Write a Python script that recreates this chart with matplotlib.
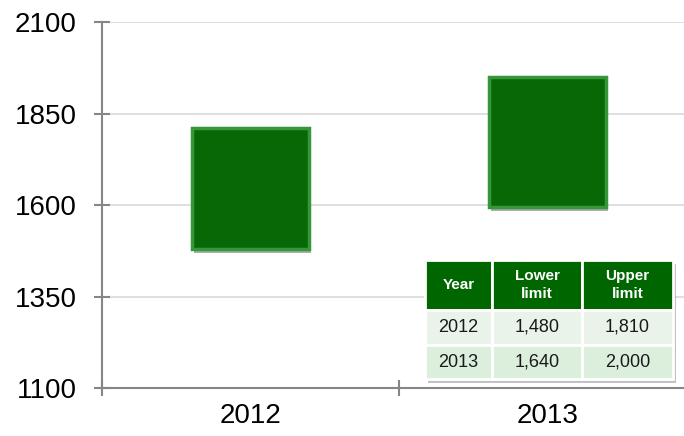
import matplotlib
matplotlib.use("Agg")
import matplotlib.pyplot as plt
import matplotlib.patheffects as pe
from matplotlib.patches import Rectangle

# data
years = ["2012", "2013"]
bar_low = [1480, 1595]
bar_high = [1810, 1950]
y_ticks = [1100, 1350, 1600, 1850, 2100]

table_header = ["Year", "Lower\nlimit", "Upper\nlimit"]
table_rows = [["2012", "1,480", "1,810"],
              ["2013", "1,640", "2,000"]]

plt.rcParams['font.family'] = ['Liberation Sans', 'DejaVu Sans']

fig = plt.figure(figsize=(6.84, 4.36), dpi=100)
ax = fig.add_axes([102 / 684, 48 / 436, 582 / 684, 366 / 436])

x = [0.5, 1.5]
heights = [h - l for h, l in zip(bar_high, bar_low)]
ax.bar(x, heights, bottom=bar_low, width=0.394, color='#066906',
       edgecolor='#35963a', linewidth=2.5, zorder=3,
       path_effects=[pe.SimplePatchShadow(offset=(1.5, -3), alpha=0.35),
                     pe.Normal()])

ax.set_xlim(0, 582 / 297)
ax.set_ylim(1100, 2100)
ax.set_yticks(y_ticks)
ax.set_yticklabels([str(v) for v in y_ticks])
ax.set_xticks(x)
ax.set_xticklabels(years)
ax.set_xticks([0, 1], minor=True)

ax.grid(axis='y', color='#d9d9d9', linewidth=1.2, zorder=0)
ax.set_axisbelow(True)
for s in ['top', 'right']:
    ax.spines[s].set_visible(False)
for s in ['left', 'bottom']:
    ax.spines[s].set_color('#868686')
    ax.spines[s].set_linewidth(1.5)

ax.tick_params(axis='y', direction='inout', length=12, width=1.5,
               color='#868686', labelsize=20, pad=12)
ax.tick_params(axis='x', which='major', length=0, labelsize=20, pad=11)
ax.tick_params(axis='x', which='minor', direction='inout', length=12,
               width=1.5, color='#868686')

# table in the lower right
tx0, tx1 = (425 - 102) / 582, (673 - 102) / 582
ty0, ty1 = (388 - 379) / 366, (388 - 260) / 366
shadow = Rectangle((tx0 + 3 / 582, ty0 - 4 / 366), tx1 - tx0, ty1 - ty0,
                   transform=ax.transAxes, facecolor='#9a9a9a', alpha=0.6,
                   edgecolor='none', zorder=4, clip_on=False)
ax.add_patch(shadow)

tbl = ax.table(cellText=table_rows, colLabels=table_header,
               cellLoc='center', bbox=[tx0, ty0, tx1 - tx0, ty1 - ty0],
               colWidths=[0.27, 0.363, 0.367], zorder=5)
tbl.auto_set_font_size(False)
row_h = [50 / 119, 35 / 119, 34 / 119]
row_colors = ['#e9f3e9', '#dcefdc']
for (r, c), cell in tbl.get_celld().items():
    cell.set_edgecolor('white')
    cell.set_linewidth(2)
    cell.set_height(row_h[r] * (ty1 - ty0))
    if r == 0:
        cell.set_facecolor('#006600')
        cell.get_text().set_color('white')
        cell.get_text().set_fontweight('bold')
        cell.get_text().set_fontsize(11)
        cell.get_text().set_linespacing(1.45)
    else:
        cell.set_facecolor(row_colors[r - 1])
        cell.get_text().set_color('#1a1a1a')
        cell.get_text().set_fontsize(13)

fig.savefig("out.png", dpi=100)
